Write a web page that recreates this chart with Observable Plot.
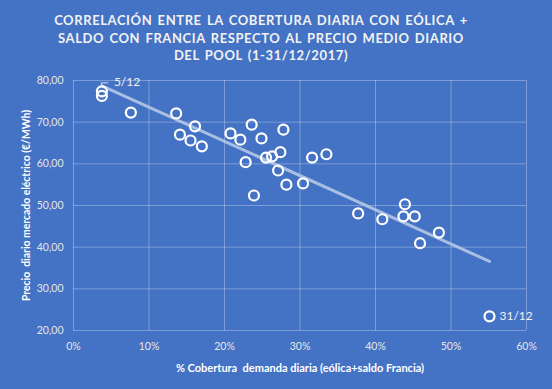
<!DOCTYPE html>
<html>
<head>
<meta charset="utf-8">
<script src="https://cdn.jsdelivr.net/npm/d3@7"></script>
<script src="https://cdn.jsdelivr.net/npm/@observablehq/plot@0.6"></script>
<style>
  html, body { margin: 0; padding: 0; background: #4472C4; }
  #wrap { width: 552px; height: 389px; background: #4472C4; overflow: hidden; font-family: Lato, "Open Sans", sans-serif; }
  #title { height: 70px; box-sizing: border-box; padding-top: 12px; padding-right: 30px; text-align: center; color: #F2F2F2; font-weight: bold; font-size: 13px; line-height: 17.5px; letter-spacing: 0.6px; word-spacing: 1.5px; white-space: nowrap; }
  svg { display: block; }
</style>
</head>
<body>
<div id="wrap">
  <div id="title">CORRELACIÓN  ENTRE LA COBERTURA  DIARIA CON EÓLICA +<br>SALDO CON FRANCIA RESPECTO AL PRECIO MEDIO DIARIO<br>DEL POOL (1-31/12/2017)</div>
  <div id="chart"></div>
</div>
<script>
// % cobertura de la demanda diaria (eólica + saldo Francia)
const cobertura = [3.76, 3.76, 7.6, 13.6, 14.1, 15.5, 16.1, 17.0, 20.8, 22.1, 23.6, 24.9, 27.8, 22.8, 25.5, 26.3, 27.4, 27.1, 28.2, 30.4, 31.6, 23.9, 33.5, 37.7, 40.9, 43.9, 43.7, 45.2, 45.9, 48.4, 55.1];
// Precio diario mercado eléctrico (€/MWh)
const precio = [77.4, 76.3, 72.3, 72.1, 67.0, 65.6, 69.0, 64.2, 67.3, 65.8, 69.4, 66.1, 68.2, 60.4, 61.5, 61.8, 62.8, 58.4, 55.0, 55.3, 61.5, 52.4, 62.3, 48.1, 46.7, 50.3, 47.4, 47.4, 40.95, 43.5, 23.4];
const etiquetas = [{i: 0, texto: "5/12"}, {i: 30, texto: "31/12"}];
const xTicks = [0, 10, 20, 30, 40, 50, 60];
const yTicks = [20, 30, 40, 50, 60, 70, 80];

const data = cobertura.map((c, i) => ({x: c, y: precio[i]}));
const labelData = etiquetas.map(e => ({x: cobertura[e.i], y: precio[e.i], texto: e.texto}));

const fmtY = d => d3.format(".2f")(d).replace(".", ",");

// leader line for the 5/12 label, positioned through the scales
function leader(index, scales) {
  const p = labelData[0];
  const px = scales.x(p.x), py = scales.y(p.y);
  const path = document.createElementNS("http://www.w3.org/2000/svg", "path");
  path.setAttribute("d", `M${px},${py - 5}V${py - 8}H${px + 7}`);
  path.setAttribute("stroke", "#D9D9D9");
  path.setAttribute("fill", "none");
  path.setAttribute("stroke-width", "1");
  return path;
}

const chart = Plot.plot({
  width: 552,
  height: 319,
  marginLeft: 73,
  marginRight: 26,
  marginTop: 10,
  marginBottom: 59,
  style: {background: "#4472C4", color: "#E6E6E6", fontFamily: "Lato, 'Open Sans', sans-serif", fontSize: "10.5px", overflow: "visible"},
  x: {domain: [0, 60], ticks: xTicks, tickFormat: d => d + "%", tickSize: 0, tickPadding: 12, label: null},
  y: {domain: [20, 80], ticks: yTicks, tickFormat: fmtY, tickSize: 0, tickPadding: 10, label: null},
  marks: [
    Plot.gridX(xTicks, {stroke: "#ffffff", strokeOpacity: 0.3, strokeWidth: 1}),
    Plot.gridY(yTicks, {stroke: "#ffffff", strokeOpacity: 0.3, strokeWidth: 1}),
    Plot.axisX({ticks: xTicks, tickFormat: d => d + "%", tickSize: 0, tickPadding: 12, label: null, fill: "#E6E6E6"}),
    Plot.axisY({ticks: yTicks, tickFormat: fmtY, tickSize: 0, tickPadding: 10, label: null, fill: "#E6E6E6"}),
    Plot.linearRegressionY(data, {x: "x", y: "y", ci: 0, stroke: "#B4C7E7", strokeWidth: 3, strokeOpacity: 0.9}),
    Plot.dot(data, {x: "x", y: "y", r: 5, stroke: "#ffffff", strokeWidth: 2.2, fill: "none"}),
    leader,
    Plot.text([labelData[0]], {x: "x", y: "y", text: "texto", dx: 12, dy: -9, textAnchor: "start", fill: "#F2F2F2", fontSize: 12}),
    Plot.text([labelData[1]], {x: "x", y: "y", text: "texto", dx: 10, textAnchor: "start", fill: "#F2F2F2", fontSize: 12}),
    Plot.text(["% Cobertura  demanda diaria (eólica+saldo Francia)"], {frameAnchor: "bottom", dy: 41, textAnchor: "middle", text: d => d, fill: "#ffffff", fontWeight: "bold", fontSize: 11}),
    Plot.text(["Precio  diario mercado eléctrico (€/MWh)"], {frameAnchor: "left", dx: -47, rotate: -90, textAnchor: "middle", text: d => d, fill: "#ffffff", fontWeight: "bold", fontSize: 10.4})
  ]
});
document.getElementById("chart").appendChild(chart);
</script>
</body>
</html>
